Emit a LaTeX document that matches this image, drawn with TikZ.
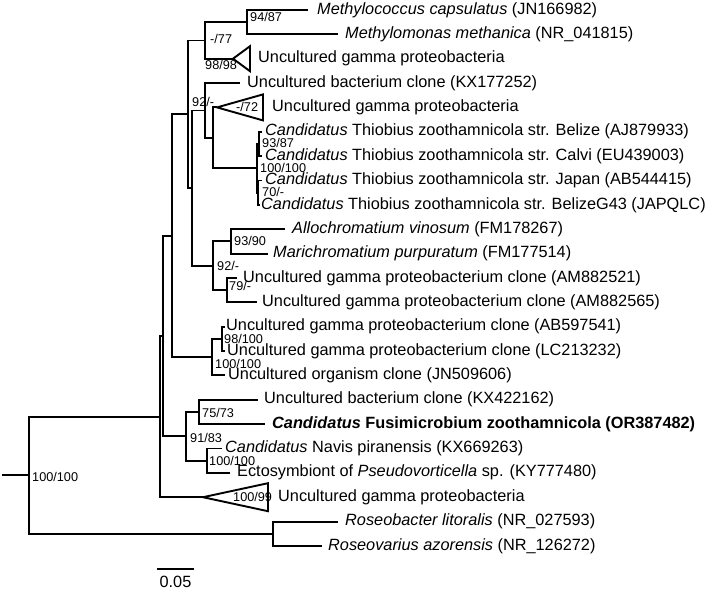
\documentclass[tikz,border=0pt]{standalone}
\usepackage{fontspec}
\setmainfont{Liberation Sans}
\begin{document}
\begin{tikzpicture}[x=1pt,y=-1pt,
  br/.style={line width=1.9pt, line join=miter},
  leaf/.style={anchor=west, inner sep=0pt, font=\fontsize{16.3}{18}\selectfont, text height=11.7pt, text depth=3.4pt},
  sup/.style={anchor=west, inner sep=0pt, font=\fontsize{12.7}{14}\selectfont, text height=9.1pt, text depth=0pt}]
\useasboundingbox (0,0) rectangle (706,591);
% internal nodes
\coordinate (rs) at (2,475.2);
\coordinate (root) at (29,475.2);
\coordinate (nG) at (160,416.6);
\coordinate (nOut) at (273,533.8);
\coordinate (nF) at (163,336.0);
\coordinate (nE) at (172,235.7);
\coordinate (nH) at (186,436.3);
\coordinate (nD) at (188,114.3);
\coordinate (nN) at (212,357.1);
\coordinate (n77) at (205,40.5);
\coordinate (nC) at (192,188.1);
\coordinate (n9487) at (247,22.2);
\coordinate (nA) at (205,110.5);
\coordinate (nK) at (213,265.8);
\coordinate (nB) at (213,137.9);
\coordinate (nT) at (257,168.4);
\coordinate (nT1) at (259,144.0);
\coordinate (nT2) at (258,192.7);
\coordinate (nL) at (231,241.4);
\coordinate (nM) at (227,290.2);
\coordinate (nO) at (222,338.9);
\coordinate (nI) at (199,412.0);
\coordinate (nJ) at (207,460.7);
% tips and triangle apices
\coordinate (t0) at (308,10);
\coordinate (t1) at (338,34.4);
\coordinate (a2) at (233,58.7);
\coordinate (t3) at (240,83.1);
\coordinate (a4) at (217,107.4);
\coordinate (t5) at (262,131.8);
\coordinate (t6) at (262,156.2);
\coordinate (t7) at (262,180.5);
\coordinate (t8) at (260,204.9);
\coordinate (t9) at (285,229.2);
\coordinate (t10) at (268,253.6);
\coordinate (t11) at (237,278.0);
\coordinate (t12) at (257,302.3);
\coordinate (t13) at (225,326.7);
\coordinate (t14) at (225,351.0);
\coordinate (t15) at (225,375.4);
\coordinate (t16) at (258,399.8);
\coordinate (t17) at (265,424.1);
\coordinate (t18) at (222,448.5);
\coordinate (t19) at (230,472.8);
\coordinate (a20) at (203,497.2);
\coordinate (t21) at (338,521.6);
\coordinate (t22) at (322,545.9);
% triangle base corners
\coordinate (b2u) at (250,46.2);
\coordinate (b2d) at (250,71.2);
\coordinate (b4u) at (263,94.4);
\coordinate (b4d) at (263,120.4);
\coordinate (b20u) at (268,483.2);
\coordinate (b20d) at (268,511.2);
% branches
\draw[br] (rs) -- (root);
\draw[br] (root) |- (nG);
\draw[br] (root) |- (nOut);
\draw[br] (nOut) |- (t21);
\draw[br] (nOut) |- (t22);
\draw[br] (nG) |- (nF);
\draw[br] (nG) |- (a20);
\draw[br] (nF) |- (nE);
\draw[br] (nF) |- (nH);
\draw[br] (nE) |- (nD);
\draw[br] (nE) |- (nN);
\draw[br] (nD) |- (n77);
\draw[br] (nD) |- (nC);
\draw[br] (n77) |- (n9487);
\draw[br] (n77) |- (a2);
\draw[br] (n9487) |- (t0);
\draw[br] (n9487) |- (t1);
\draw[br] (nC) |- (nA);
\draw[br] (nC) |- (nK);
\draw[br] (nA) |- (t3);
\draw[br] (nA) |- (nB);
\draw[br] (nB) |- (a4);
\draw[br] (nB) |- (nT);
\draw[br] (nT) |- (nT1);
\draw[br] (nT) |- (nT2);
\draw[br] (nT1) |- (t5);
\draw[br] (nT1) |- (t6);
\draw[br] (nT2) |- (t7);
\draw[br] (nT2) |- (t8);
\draw[br] (nK) |- (nL);
\draw[br] (nK) |- (nM);
\draw[br] (nL) |- (t9);
\draw[br] (nL) |- (t10);
\draw[br] (nM) |- (t11);
\draw[br] (nM) |- (t12);
\draw[br] (nN) |- (nO);
\draw[br] (nN) |- (t15);
\draw[br] (nO) |- (t13);
\draw[br] (nO) |- (t14);
\draw[br] (nH) |- (nI);
\draw[br] (nH) |- (nJ);
\draw[br] (nI) |- (t16);
\draw[br] (nI) |- (t17);
\draw[br] (nJ) |- (t18);
\draw[br] (nJ) |- (t19);
% collapsed clades
\draw[br] (a2) -- (b2u) -- (b2d) -- cycle;
\draw[br] (a4) -- (b4u) -- (b4d) -- cycle;
\draw[br] (a20) -- (b20u) -- (b20d) -- cycle;
% leaf labels
\node[leaf] (L0) at (317,10) {\textit{Methylococcus capsulatus} (JN166982)};
\node[leaf] (L1) at (345,34.4) {\textit{Methylomonas methanica} (NR\_041815)};
\node[leaf] (L2) at (258,58.7) {Uncultured gamma proteobacteria};
\node[leaf] (L3) at (247,83.1) {Uncultured bacterium clone (KX177252)};
\node[leaf] (L4) at (272,107.4) {Uncultured gamma proteobacteria};
\node[leaf] (L5) at (265,131.8) {\textit{Candidatus} Thiobius zoothamnicola str. Belize (AJ879933)};
\node[leaf] (L6) at (265,156.2) {\textit{Candidatus} Thiobius zoothamnicola str. Calvi (EU439003)};
\node[leaf] (L7) at (265,180.5) {\textit{Candidatus} Thiobius zoothamnicola str. Japan (AB544415)};
\node[leaf] (L8) at (261,204.9) {\textit{Candidatus} Thiobius zoothamnicola str. BelizeG43 (JAPQLC)};
\node[leaf] (L9) at (292,229.2) {\textit{Allochromatium vinosum} (FM178267)};
\node[leaf] (L10) at (273,253.6) {\textit{Marichromatium purpuratum} (FM177514)};
\node[leaf] (L11) at (243,278.0) {Uncultured gamma proteobacterium clone (AM882521)};
\node[leaf] (L12) at (262,302.3) {Uncultured gamma proteobacterium clone (AM882565)};
\node[leaf] (L13) at (226,326.7) {Uncultured gamma proteobacterium clone (AB597541)};
\node[leaf] (L14) at (227,351.0) {Uncultured gamma proteobacterium clone (LC213232)};
\node[leaf] (L15) at (228,375.4) {Uncultured organism clone (JN509606)};
\node[leaf] (L16) at (264,399.8) {Uncultured bacterium clone (KX422162)};
\node[leaf] (L17) at (272,424.1) {\textbf{\textit{Candidatus} Fusimicrobium zoothamnicola (OR387482)}};
\node[leaf] (L18) at (225,448.5) {\textit{Candidatus} Navis piranensis (KX669263)};
\node[leaf] (L19) at (237,472.8) {Ectosymbiont of \textit{Pseudovorticella} sp. (KY777480)};
\node[leaf] (L20) at (278,497.2) {Uncultured gamma proteobacteria};
\node[leaf] (L21) at (345,521.6) {\textit{Roseobacter litoralis} (NR\_027593)};
\node[leaf] (L22) at (328,545.9) {\textit{Roseovarius azorensis} (NR\_126272)};
% support values
\node[sup] (S9487) at (250,17) {94/87};
\node[sup] (S77) at (210,39) {-/77};
\node[sup] (S98) at (205,65) {98/98};
\node[sup] (S92a) at (192,102) {92/-};
\node[sup] (S72) at (236,107.4) {-/72};
\node[sup] (S9387) at (262,143) {93/87};
\node[sup] (S100T) at (260,168) {100/100};
\node[sup] (S70) at (262,192) {70/-};
\node[sup] (S9390) at (234,241) {93/90};
\node[sup] (S92b) at (217,266) {92/-};
\node[sup] (S79) at (229,286) {79/-};
\node[sup] (S98100) at (224,339) {98/100};
\node[sup] (S100N) at (215,364) {100/100};
\node[sup] (S7573) at (202,413) {75/73};
\node[sup] (S9183) at (190,438) {91/83};
\node[sup] (S100J) at (209,461) {100/100};
\node[sup] (S10099) at (233,497) {100/99};
\node[sup] (Sroot) at (32,477) {100/100};
% scale bar
\coordinate (sb1) at (157,569);
\coordinate (sb2) at (194,569);
\draw[br] (sb1) -- (sb2);
\node[inner sep=0pt, font=\fontsize{16.3}{18}\selectfont, text height=11.7pt, text depth=0pt] (scl) at (175.5,582) {0.05};
\end{tikzpicture}
\end{document}
